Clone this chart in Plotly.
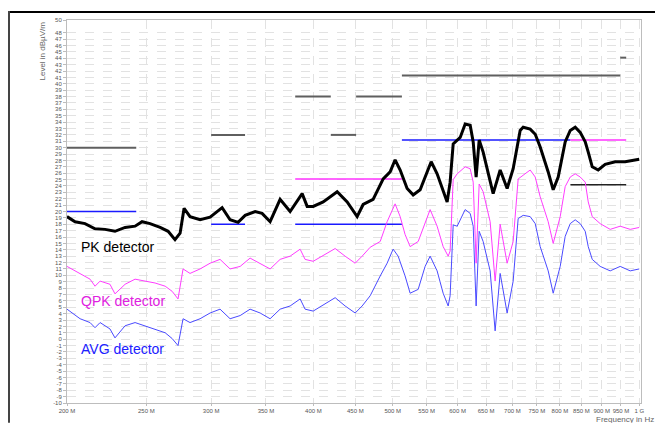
import math

import plotly.graph_objects as go

# Measured traces (frequency in MHz, level in dBuV/m)
pk_freq = [200, 204.6, 210.4, 216.4, 222.6, 228.9, 235.5, 242.2, 247.0, 252.6,
           259.9, 265.8, 271.0, 274.9, 278.0, 282.7, 290.8, 299.1, 309.4, 316.4,
           323.6, 330.1, 339.5, 346.2, 354.1, 364.2, 374.6, 387.5, 393.0, 399.7,
           411.1, 427.6, 439.8, 452.3, 460.0, 473.1, 486.7, 496.3, 503.3, 510.5,
           520.6, 529.5, 540.0, 550.7, 557.0, 566.4, 576.1, 582.6, 587.5, 592.6,
           604.4, 612.9, 621.6, 626.9, 632.1, 637.5, 644.7, 663.1, 676.3, 689.7,
           701.5, 715.4, 721.5, 735.9, 746.4, 756.9, 774.1, 785.1, 796.2, 812.0,
           823.6, 835.2, 847.1, 859.1, 866.4, 876.2, 891.0, 908.7, 934.7, 961.3,
           1000]
pk_level = [19.2, 18.4, 18.1, 17.3, 17.2, 16.9, 17.5, 17.7, 18.4, 18.1,
            17.5, 16.9, 15.6, 16.6, 20.5, 19.2, 18.7, 19.1, 20.6, 18.7,
            18.3, 19.4, 20.0, 19.7, 18.4, 21.9, 20.0, 22.8, 20.8, 20.8,
            21.5, 23.1, 21.5, 19.2, 21.1, 21.9, 25.1, 26.2, 28.1, 26.5,
            23.6, 22.6, 23.4, 26.2, 27.8, 25.9, 23.1, 21.5, 24.6, 30.6,
            31.6, 33.7, 33.5, 30.9, 25.4, 31.2, 29.3, 22.8, 26.5, 23.6,
            26.7, 32.7, 33.2, 32.9, 32.1, 30.1, 26.2, 23.4, 25.4, 30.9,
            32.7, 33.2, 32.4, 30.9, 29.3, 27.0, 26.5, 27.4, 27.8, 27.8,
            28.2]

qpk_freq = [200, 207.5, 213.4, 216.4, 219.5, 225.7, 228.9, 235.5, 242.2, 249.1,
            256.2, 263.6, 268.8, 273.3, 277.2, 282.7, 290.8, 299.1, 307.6, 316.4,
            325.5, 334.7, 344.3, 354.1, 364.2, 374.6, 385.3, 390.7, 399.7, 409.9,
            425.2, 437.3, 449.8, 458.7, 469.2, 482.6, 492.1, 503.3, 510.5, 517.6,
            525.0, 537.0, 547.6, 555.4, 566.4, 576.1, 584.3, 587.5, 592.6, 599.3,
            612.9, 621.6, 626.9, 632.1, 637.5, 644.7, 657.5, 666.8, 676.3, 689.7,
            701.5, 711.4, 735.9, 746.4, 756.9, 774.1, 785.1, 800.7, 812.0, 823.6,
            835.2, 847.1, 859.1, 866.4, 876.2, 896.0, 921.6, 947.9, 975.0, 1000]
qpk_level = [11.4, 10.2, 9.4, 8.3, 9.1, 8.6, 7.1, 8.6, 9.4, 9.1,
             8.8, 8.3, 7.5, 6.3, 11.0, 10.3, 11.0, 11.9, 12.5, 11.0,
             11.4, 12.7, 11.9, 11.0, 12.5, 13.0, 14.1, 12.5, 12.2, 13.0,
             14.2, 13.0, 11.9, 13.0, 14.4, 15.3, 18.4, 21.2, 19.2, 16.4,
             14.5, 15.3, 18.4, 20.3, 17.7, 14.5, 13.0, 13.8, 25.0, 25.9,
             27.0, 26.7, 24.6, 11.9, 24.3, 23.1, 18.4, 9.1, 18.0, 11.9,
             15.3, 25.1, 26.5, 25.4, 22.3, 18.4, 15.0, 19.2, 23.9, 25.4,
             25.9, 25.4, 24.6, 21.5, 19.2, 18.1, 17.2, 17.7, 17.2, 17.5]

avg_freq = [200, 207.5, 213.4, 216.4, 219.5, 225.7, 228.9, 235.5, 242.2, 249.1,
            256.2, 263.6, 268.8, 273.3, 277.2, 282.7, 290.8, 299.1, 307.6, 316.4,
            325.5, 334.7, 344.3, 354.1, 364.2, 374.6, 385.3, 390.7, 399.7, 409.9,
            425.2, 437.3, 449.8, 458.7, 469.2, 482.6, 492.1, 500.5, 507.6, 517.6,
            525.0, 537.0, 547.6, 555.4, 566.4, 576.1, 584.3, 587.5, 592.6, 599.3,
            612.9, 621.6, 626.9, 632.1, 637.5, 644.7, 657.5, 666.8, 676.3, 689.7,
            701.5, 711.4, 721.5, 735.9, 746.4, 756.9, 774.1, 785.1, 800.7, 812.0,
            823.6, 835.2, 847.1, 859.1, 866.4, 876.2, 896.0, 921.6, 947.9, 975.0,
            1000]
avg_level = [4.7, 3.2, 2.6, 1.8, 2.6, 1.6, 0.2, 2.1, 2.6, 2.1,
             1.6, 1.0, 0.1, -1.0, 3.2, 2.6, 3.2, 4.1, 4.7, 3.2,
             3.7, 4.7, 4.1, 3.2, 4.7, 5.2, 6.3, 4.7, 4.4, 5.2,
             6.5, 5.2, 4.1, 5.2, 6.8, 9.9, 11.9, 14.1, 13.0, 9.9,
             7.2, 7.8, 11.4, 13.0, 10.7, 7.2, 5.2, 6.8, 17.9, 17.7,
             20.3, 19.7, 17.7, 5.2, 16.9, 15.3, 10.7, 1.3, 10.3, 4.1,
             9.1, 18.9, 19.4, 19.2, 18.1, 14.5, 10.7, 7.2, 11.4, 16.1,
             18.1, 18.7, 18.1, 16.9, 14.5, 12.5, 11.4, 10.7, 11.4, 10.7,
             11.0]

# Limit lines: start MHz, stop MHz, level dBuV/m
gray_lim_start = [200, 300, 380, 420, 451, 513, 948]
gray_lim_stop = [243, 330, 420, 451, 513, 948, 964]
gray_lim_level = [30, 32, 38, 32, 38, 41.3, 44.1]

blue_lim_start = [200, 300, 380, 513]
blue_lim_stop = [243, 330, 513, 824]
blue_lim_level = [20, 18, 18, 31.2]

magenta_lim_start = [380, 824]
magenta_lim_stop = [513, 964]
magenta_lim_level = [25.1, 31.2]

black_lim_start = [824]
black_lim_stop = [964]
black_lim_level = [24.2]

x_ticks = [200, 250, 300, 350, 400, 450, 500, 550, 600, 650, 700, 750, 800, 850, 900, 950, 1000]
x_tick_text = ["200 M", "250 M", "300 M", "350 M", "400 M", "450 M", "500 M", "550 M",
               "600 M", "650 M", "700 M", "750 M", "800 M", "850 M", "900 M", "950 M", "1 G"]
y_ticks = [v for v in range(-10, 51) if v != 49]

FONT = "Liberation Sans, Arial, sans-serif"

# the page body adds an 8 px offset, so the figure is 8 px smaller than the window
W, H = 655, 415
ML, MR, MT, MB = 59, 22, 9, 20
PW, PH = W - ML - MR, H - MT - MB


def segments(starts, stops, levels):
    xs, ys = [], []
    for a, b, v in zip(starts, stops, levels):
        xs += [a, b, None]
        ys += [v, v, None]
    return xs, ys


fig = go.Figure()

for st, sp, lv, color, w in [
    (gray_lim_start, gray_lim_stop, gray_lim_level, "#5f5f5f", 2),
    (blue_lim_start, blue_lim_stop, blue_lim_level, "#1a1aff", 1.6),
    (magenta_lim_start, magenta_lim_stop, magenta_lim_level, "#ff33ff", 1.6),
    (black_lim_start, black_lim_stop, black_lim_level, "#222222", 1.4),
]:
    xs, ys = segments(st, sp, lv)
    fig.add_trace(go.Scatter(x=xs, y=ys, mode="lines", line=dict(color=color, width=w),
                             showlegend=False, hoverinfo="skip"))

fig.add_trace(go.Scatter(x=avg_freq, y=avg_level, mode="lines",
                         line=dict(color="#4a4aff", width=1), showlegend=False))
fig.add_trace(go.Scatter(x=qpk_freq, y=qpk_level, mode="lines",
                         line=dict(color="#ff3cff", width=1), showlegend=False))
fig.add_trace(go.Scatter(x=pk_freq, y=pk_level, mode="lines",
                         line=dict(color="black", width=3), showlegend=False))

for txt, lvl, color in [("PK detector", 14.5, "black"),
                        ("QPK detector", 6.0, "#e020e0"),
                        ("AVG detector", -1.5, "#2020ff")]:
    fig.add_annotation(x=math.log10(207), y=lvl, text=txt, showarrow=False,
                       xanchor="left", yanchor="middle",
                       font=dict(family=FONT, size=14, color=color))

fig.add_annotation(x=(34 - ML) / PW, y=1.0, xref="paper", yref="paper", text="Level in dBµV/m",
                   textangle=-90, showarrow=False, xanchor="center", yanchor="top",
                   font=dict(family=FONT, size=8, color="#666666"))
fig.add_annotation(x=(647 - ML) / PW, y=-MB / PH, xref="paper", yref="paper",
                   text="Frequency in Hz", showarrow=False, xanchor="right", yanchor="bottom",
                   yshift=-2, borderpad=0,
                   font=dict(family=FONT, size=8, color="#666666"))

# outer frame (top and left edges)
fig.add_shape(type="line", xref="paper", yref="paper",
              x0=-ML / PW, x1=(W - ML) / PW, y0=1 + (MT - 1) / PH, y1=1 + (MT - 1) / PH,
              line=dict(color="black", width=2))
fig.add_shape(type="line", xref="paper", yref="paper",
              x0=(1 - ML) / PW, x1=(1 - ML) / PW, y0=-MB / PH, y1=1 + MT / PH,
              line=dict(color="#444444", width=2))

fig.update_xaxes(type="log", range=[math.log10(200), math.log10(1005)],
                 tickvals=x_ticks, ticktext=x_tick_text,
                 tickfont=dict(family=FONT, size=6, color="#555555"),
                 showgrid=True, gridcolor="#e2e2e2", griddash="dash", gridwidth=1,
                 showline=True, linecolor="#bdbdbd", linewidth=1, mirror=True,
                 ticks="outside", ticklen=2, tickcolor="#bdbdbd", zeroline=False)
fig.update_yaxes(range=[-10, 50], tickvals=y_ticks, ticktext=[str(v) for v in y_ticks],
                 tickfont=dict(family=FONT, size=6, color="#555555"),
                 showgrid=True, gridcolor="#e2e2e2", griddash="dash", gridwidth=1,
                 showline=True, linecolor="#bdbdbd", linewidth=1, mirror=True,
                 ticks="outside", ticklen=3, tickcolor="#bdbdbd", zeroline=False)

fig.update_layout(width=W, height=H, plot_bgcolor="white", paper_bgcolor="white",
                  margin=dict(l=ML, r=MR, t=MT, b=MB), showlegend=False)

fig.write_html("out.html")
